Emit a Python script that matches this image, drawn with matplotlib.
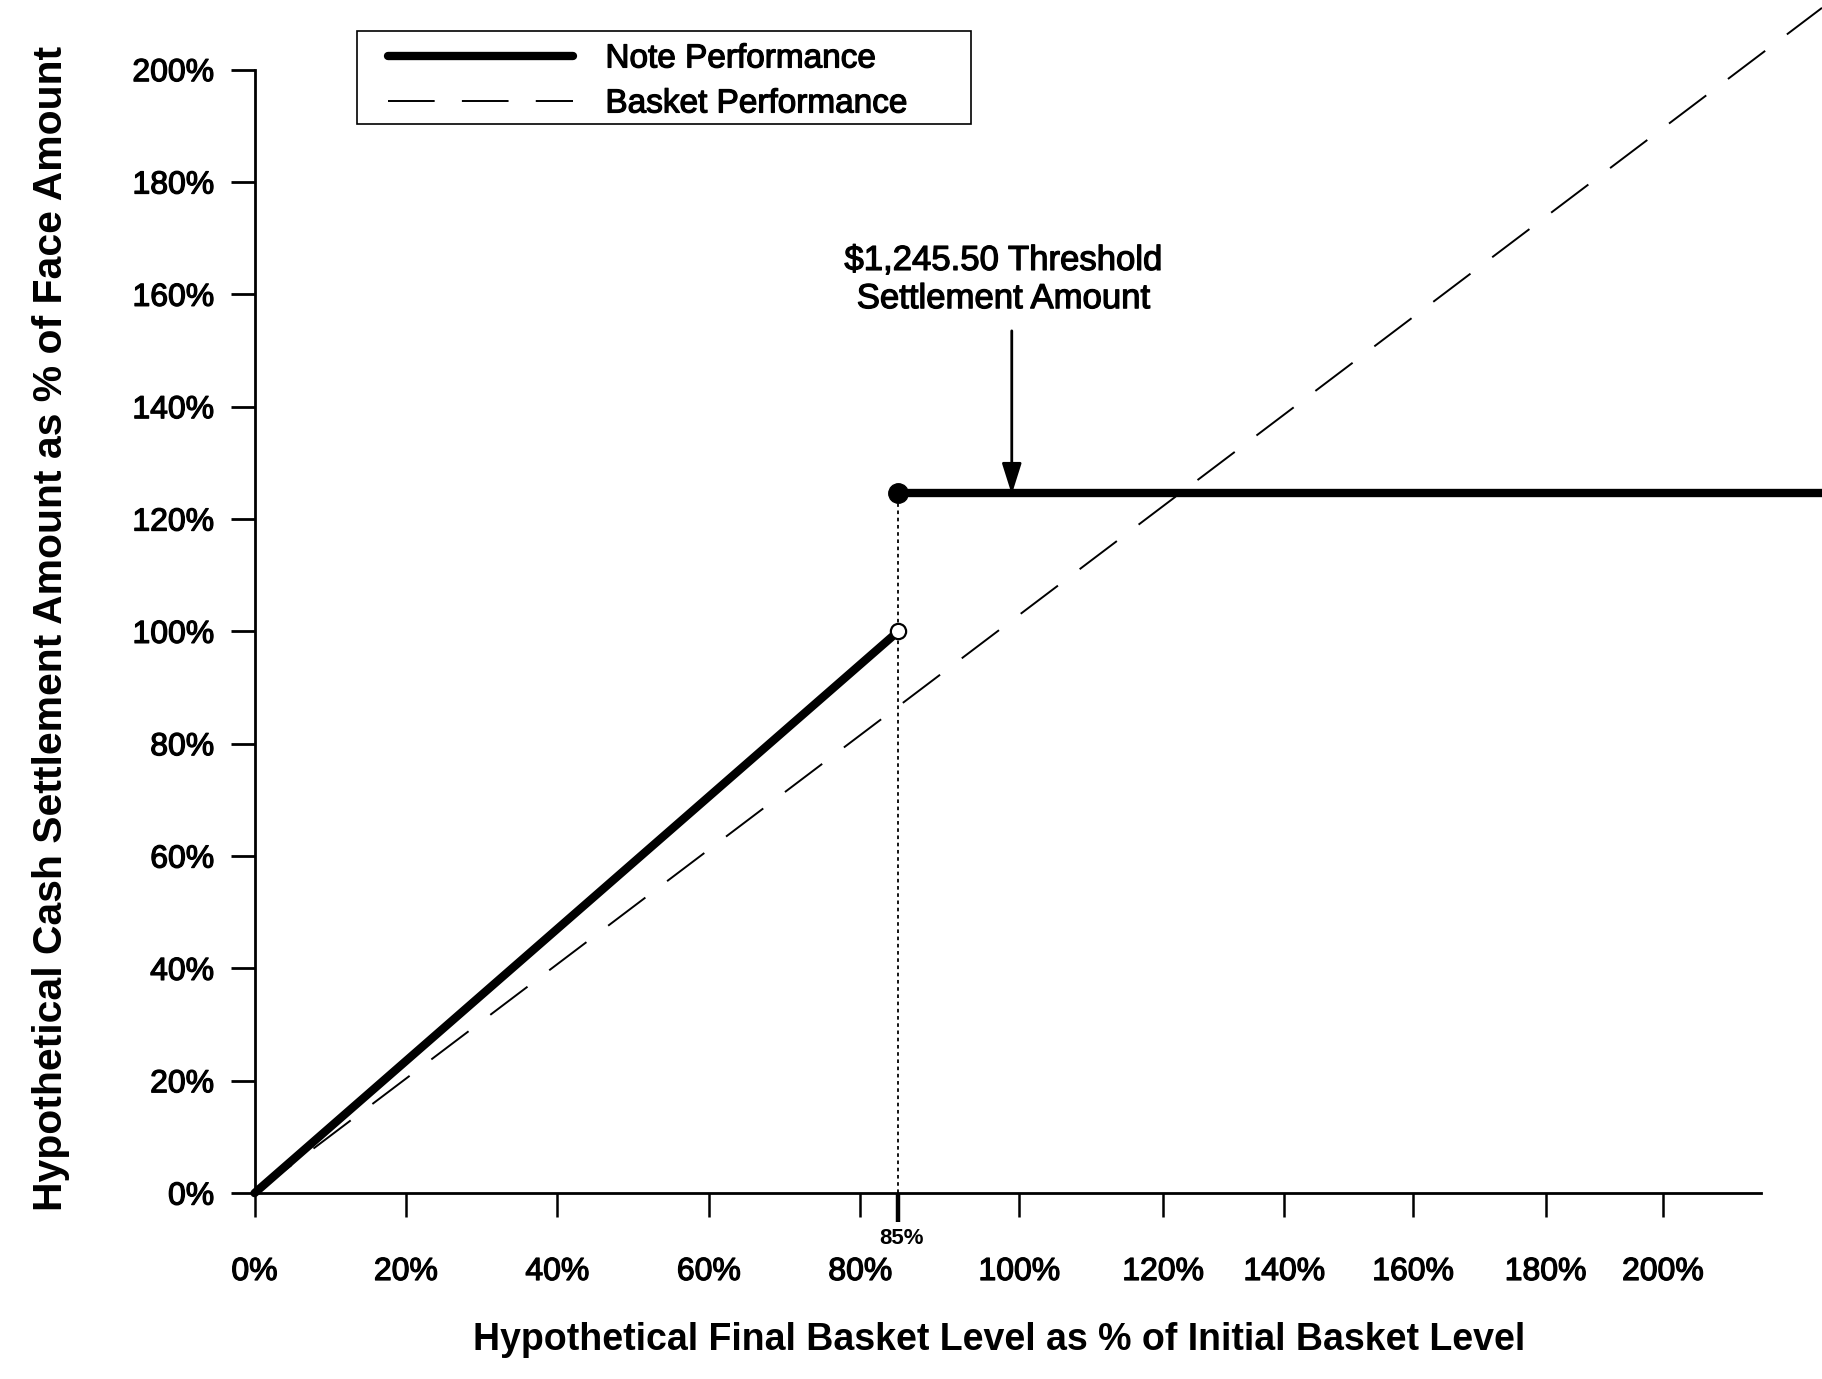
import matplotlib
matplotlib.use("Agg")
import matplotlib.pyplot as plt
import matplotlib.patheffects as pe
from matplotlib.patches import Rectangle

plt.rcParams['font.family'] = ['Liberation Sans', 'DejaVu Sans']

# note payout, in % of face amount
note_up_x = [0, 85]
note_up_y = [0, 100]
note_cap_x = [85, 207]
note_cap_y = [124.55, 124.55]

# basket performance (straight line)
basket_x = [0, 207]
basket_y = [0, 211]

# axis ticks (the printed x labels are not evenly spaced)
y_ticks = [0, 20, 40, 60, 80, 100, 120, 140, 160, 180, 200]
y_labels = ['0%', '20%', '40%', '60%', '80%', '100%', '120%', '140%', '160%', '180%', '200%']
x_ticks = [0, 20, 40, 60, 80, 101, 120, 136, 153, 170.5, 186]
x_labels = ['0%', '20%', '40%', '60%', '80%', '100%', '120%', '140%', '160%', '180%', '200%']
x_thick = [85, 101, 120]
threshold_x = 85
threshold_lbl = '85%'

# slightly heavier strokes for the "regular" text, like the original
heavy = [pe.withStroke(linewidth=0.9, foreground='black')]

fig = plt.figure(figsize=(18.22, 13.79), dpi=100)
ax = fig.add_axes([0.1397, 0.1348, 0.8603, 0.8652])
ax.set_xlim(0, 207)
ax.set_ylim(0, 212.4)

ax.plot(basket_x, basket_y, color='black', lw=1.4, dashes=(24, 14),
        label='Basket Performance', clip_on=False, zorder=2)
ax.plot(note_up_x, note_up_y, color='black', lw=6, solid_capstyle='round',
        label='Note Performance', clip_on=False, zorder=3)
ax.plot(note_cap_x, note_cap_y, color='black', lw=6, solid_capstyle='butt', zorder=3)

# dotted drop line at the threshold
ax.plot([threshold_x, threshold_x], [0, note_cap_y[0]], color='black', lw=1.3,
        linestyle=(0, (2, 2)), zorder=2)
ax.plot(threshold_x, note_cap_y[0], 'o', ms=14, color='black', zorder=4)
ax.plot(note_up_x[-1], note_up_y[-1], 'o', ms=11, mfc='white', mec='black', mew=1.6, zorder=4)

# threshold annotation
ax.annotate('', xy=(100, 124.4), xytext=(100, 153.5),
            arrowprops=dict(arrowstyle='-|>,head_length=1.9,head_width=0.6',
                            color='black', lw=2, shrinkA=0, shrinkB=0))
ax.text(98.9, 156.3, '$1,245.50 Threshold\nSettlement Amount', ha='center', va='bottom',
        fontsize=25, linespacing=1.2, path_effects=heavy)

# spines
for s in ['top', 'right']:
    ax.spines[s].set_visible(False)
ax.spines['left'].set_bounds(0, 200)
ax.spines['bottom'].set_bounds(0, 199)
ax.spines['left'].set_linewidth(2)
ax.spines['bottom'].set_linewidth(2)

ax.set_yticks(y_ticks, y_labels)
ax.tick_params(axis='y', direction='out', length=17, width=2, labelsize=23, pad=12)
ax.set_xticks(x_ticks, x_labels)
ax.tick_params(axis='x', which='major', direction='out', length=17, width=1.8,
               labelsize=23, pad=29)
ax.set_xticks(x_thick, minor=True)
ax.tick_params(axis='x', which='minor', direction='out', length=21, width=3.2,
               labelbottom=False)
for lbl in ax.get_xticklabels() + ax.get_yticklabels():
    lbl.set_path_effects(heavy)
ax.text(threshold_x + 0.5, -6.3, threshold_lbl, ha='center', va='top',
        fontsize=16, fontweight='bold')

ax.set_xlabel('Hypothetical Final Basket Level as % of Initial Basket Level',
              fontsize=27, fontweight='bold')
ax.xaxis.set_label_coords(0.475, -0.108)
ax.set_ylabel('Hypothetical Cash Settlement Amount as % of Face Amount',
              fontsize=29.4, fontweight='bold')
ax.yaxis.set_label_coords(-0.118, 0.473)

# legend: frameless entries plus a hand-placed box, which is wider on the right
leg = fig.legend(handles=[ax.lines[1], ax.lines[0]], loc='upper left',
                 bbox_to_anchor=(0.2130, 0.9685), fontsize=24, frameon=False,
                 handlelength=5.54, handletextpad=0.98, borderpad=0,
                 labelspacing=0.42, borderaxespad=0)
for t in leg.get_texts():
    t.set_path_effects(heavy)
fig.patches.append(Rectangle((0.1958, 0.9099), 0.3374, 0.0674, transform=fig.transFigure,
                             fill=False, edgecolor='black', lw=1.2))

fig.savefig('out.png', dpi=100, facecolor='white')
